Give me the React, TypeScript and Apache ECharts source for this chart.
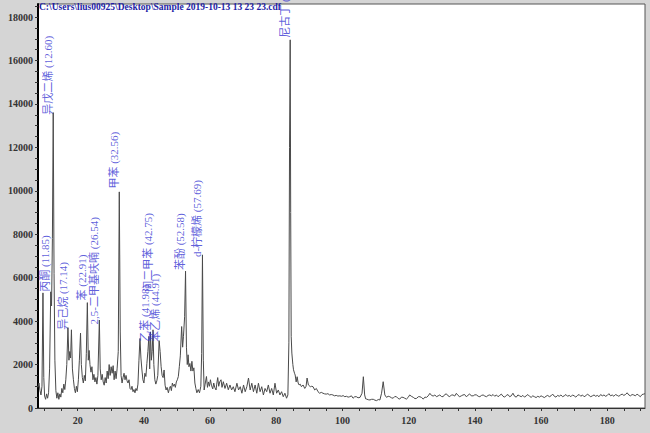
import React, { useEffect, useRef } from 'react';
import * as echarts from 'echarts';

// chromatogram trace: [retention time (min), TIC]
const trace: [number, number][] = [
  [8.0, 950], [8.3, 1150], [8.6, 800], [8.9, 600], [9.2, 1000], [9.5, 5300], [9.75, 1400], [10.0, 550], [10.3, 400], [10.6, 650], [10.9, 450], [11.2, 700], [11.5, 1800], [11.85, 5350], [12.1, 4700], [12.35, 7800], [12.6, 13600], [12.85, 6200], [13.1, 2200], [13.4, 800], [13.7, 450], [14.0, 700], [14.3, 400], [14.6, 650], [14.9, 500], [15.2, 900], [15.5, 700], [15.8, 1100], [16.1, 850], [16.4, 1300], [16.7, 2000], [17.05, 3700], [17.35, 2200], [17.6, 2600], [17.85, 2300], [18.1, 3600], [18.4, 1800], [18.7, 1300], [19.0, 900], [19.3, 700], [19.6, 1000], [19.9, 750],
  [20.2, 1300], [20.5, 2200], [20.85, 3450], [21.1, 2000], [21.4, 1400], [21.7, 1150], [22.0, 1500], [22.3, 1250], [22.6, 2500], [22.91, 4850], [23.2, 2200], [23.45, 2650], [23.7, 2000], [24.0, 1650], [24.3, 1900], [24.6, 1300], [24.9, 1550], [25.2, 1200], [25.5, 1400], [25.8, 1100], [26.1, 1500], [26.54, 4050], [26.8, 1800], [27.1, 1300], [27.4, 1550], [27.7, 1200], [28.0, 1050], [28.3, 1400], [28.6, 1150], [28.9, 1700], [29.2, 1350], [29.5, 2000], [29.8, 1500],
  [30.1, 1900], [30.4, 1600], [30.7, 1950], [31.0, 1300], [31.3, 1700], [31.6, 1350], [31.9, 1800], [32.25, 2600], [32.56, 9950], [32.85, 3500], [33.1, 1500], [33.4, 1150], [33.7, 1400], [34.0, 1600], [34.3, 1300], [34.6, 1500], [34.9, 1250], [35.2, 1150], [35.5, 1300], [35.8, 900], [36.1, 850], [36.4, 1000], [36.7, 750], [37.0, 850], [37.3, 700], [37.6, 900], [37.9, 800], [38.2, 1100], [38.5, 2200], [38.8, 3200], [39.1, 2300], [39.4, 1750], [39.7, 1300],
  [40.0, 1150], [40.3, 1600], [40.6, 1450], [40.9, 2050], [41.2, 2600], [41.5, 3300], [41.75, 1800], [41.98, 3500], [42.25, 2200], [42.5, 2600], [42.75, 3600], [43.0, 2000], [43.3, 1300], [43.6, 1100], [43.9, 1250], [44.2, 1500], [44.6, 3100], [44.9, 2600], [45.2, 1900], [45.5, 1500], [45.8, 1400], [46.1, 1750], [46.4, 1050], [46.7, 830], [47.0, 950], [47.4, 700], [47.7, 900], [48.0, 1000], [48.3, 800], [48.6, 1150], [48.9, 1000], [49.2, 1100], [49.5, 950], [49.8, 1200],
  [50.1, 1300], [50.4, 1450], [50.7, 1900], [51.0, 2400], [51.4, 3750], [51.7, 2800], [51.95, 3300], [52.3, 4200], [52.58, 6300], [52.85, 2800], [53.1, 2000], [53.35, 2450], [53.6, 1900], [53.9, 2050], [54.2, 1700], [54.5, 2150], [54.8, 1700], [55.1, 1850], [55.4, 1150], [55.7, 900], [56.0, 700], [56.4, 850], [56.8, 700], [57.2, 1000], [57.45, 2500], [57.69, 7050], [57.95, 2200], [58.2, 830], [58.5, 1100], [58.9, 1450], [59.2, 950], [59.5, 1200], [59.8, 1000],
  [60.1, 1300], [60.4, 1050], [60.8, 880], [61.1, 1150], [61.4, 950], [61.8, 830], [62.0, 1100], [62.3, 1400], [62.6, 1000], [62.9, 1200], [63.3, 1300], [63.6, 950], [64.0, 1210], [64.5, 900], [65.0, 1140], [65.5, 840], [66.0, 1060], [66.5, 830], [67.0, 980], [67.5, 750], [68.1, 1140], [68.6, 830], [69.1, 980], [69.6, 680], [70.1, 1060], [70.6, 750], [71.1, 980], [71.6, 1380], [72.1, 830], [72.6, 1140], [73.1, 750], [73.6, 1060], [74.1, 680], [74.6, 1140], [75.1, 750], [75.6, 980], [76.1, 600], [76.6, 900], [77.1, 750], [77.6, 1060], [78.1, 680], [78.6, 900], [79.1, 600], [79.6, 1140],
  [80.1, 680], [80.6, 830], [81.1, 600], [81.6, 750], [82.1, 520], [82.6, 680], [83.1, 450], [83.5, 600], [83.8, 3000], [84.0, 12000], [84.2, 16950], [84.35, 9000], [84.5, 3300], [84.7, 2530], [85.0, 2000], [85.2, 1760], [85.5, 1600], [85.7, 1520], [86.0, 1200], [86.3, 1440], [86.6, 1150], [86.9, 1060], [87.2, 1100], [87.6, 980], [88.1, 1060], [88.6, 900], [89.0, 1000], [89.3, 1380], [89.7, 1060], [90.3, 980], [90.7, 1000], [91.1, 980], [91.6, 830], [92.1, 900], [92.6, 750], [93.1, 680], [93.6, 720], [94.1, 680], [94.6, 650], [95.1, 640], [95.6, 660], [96.1, 600], [96.6, 620], [97.1, 600], [97.6, 560], [98.1, 580], [98.6, 550], [99.2, 560], [99.7, 540],
  [100.2, 570], [100.7, 520], [101.2, 540], [101.7, 500], [102.2, 520], [102.7, 560], [103.2, 450], [103.7, 520], [104.2, 520], [104.7, 470], [105.3, 490], [105.9, 680], [106.3, 1440], [106.7, 600], [107.0, 420], [107.3, 410], [107.8, 380], [108.3, 370], [108.8, 400], [109.3, 400], [109.8, 360], [110.3, 340], [110.8, 390], [111.3, 370], [111.8, 680], [112.3, 1210], [112.8, 600], [113.3, 490], [113.8, 540], [114.3, 520], [114.8, 470], [115.3, 450], [115.8, 530], [116.3, 520], [116.8, 440], [117.3, 410], [117.8, 500], [118.3, 490], [118.8, 450], [119.3, 410], [119.8, 480],
  [120.3, 600], [120.8, 540], [121.4, 490], [121.9, 430], [122.4, 445], [122.9, 520], [123.4, 520], [123.9, 480], [124.4, 410], [124.9, 500], [125.4, 490], [125.9, 560], [126.4, 675], [126.9, 580], [127.4, 550], [127.9, 600], [128.4, 520], [128.9, 560], [129.4, 600], [129.9, 530], [130.4, 520], [130.9, 620], [131.4, 650], [131.9, 560], [132.4, 520], [132.9, 600], [133.4, 600], [133.9, 550], [134.4, 675], [134.9, 580], [135.4, 520], [135.9, 560], [136.4, 600], [136.9, 620], [137.4, 520], [137.9, 580], [138.4, 650], [138.9, 560], [139.5, 560],
  [140.0, 610], [140.5, 600], [141.0, 540], [141.5, 520], [142.0, 580], [142.5, 600], [143.0, 550], [143.5, 520], [144.0, 580], [144.5, 600], [145.0, 560], [145.5, 620], [146.0, 540], [146.5, 600], [147.0, 520], [147.5, 580], [148.0, 640], [148.5, 540], [149.0, 500], [149.5, 580], [150.0, 620], [150.5, 520], [151.0, 560], [151.5, 680], [152.0, 540], [152.5, 500], [153.0, 600], [153.5, 560], [154.0, 520], [154.5, 580], [155.0, 500], [155.5, 560], [156.0, 620], [156.5, 540], [157.0, 490], [157.5, 560], [158.0, 520], [158.5, 480], [159.0, 540], [159.5, 500],
  [160.0, 560], [160.5, 520], [161.0, 480], [161.5, 540], [162.0, 580], [162.5, 520], [163.0, 560], [163.5, 640], [164.0, 540], [164.5, 500], [165.0, 580], [165.5, 540], [166.0, 600], [166.5, 520], [167.0, 560], [167.5, 620], [168.0, 540], [168.5, 580], [169.0, 520], [169.5, 600], [170.0, 560], [170.5, 500], [171.0, 580], [171.5, 620], [172.0, 540], [172.5, 600], [173.0, 520], [173.5, 560], [174.0, 640], [174.5, 580], [175.0, 520], [175.5, 560], [176.0, 600], [176.5, 540], [177.0, 580], [177.5, 520], [178.0, 620], [178.5, 560], [179.0, 600], [179.5, 540],
  [180.0, 580], [180.5, 660], [181.0, 560], [181.5, 600], [182.0, 540], [182.5, 620], [183.0, 580], [183.5, 540], [184.0, 600], [184.5, 640], [185.0, 580], [185.5, 620], [186.0, 700], [186.5, 600], [187.0, 560], [187.5, 620], [188.0, 600], [188.5, 560], [189.0, 640], [189.5, 580], [190.0, 520], [190.5, 620], [191.0, 640], [191.4, 660],
];

// peak annotations
const peakNames = ['丙酮', '异戊二烯', '异己烷', '苯', '2,5-二甲基呋喃', '甲苯', '乙苯', '间二甲苯', '苯乙烯', '苯酚', 'd-柠檬烯', '尼古丁'];
const peakTimes = ['11.85', '12.60', '17.14', '22.91', '26.54', '32.56', '41.98', '42.75', '44.91', '52.58', '57.69', '84.21'];
const labelHeights = [5350, 13500, 3600, 4950, 3850, 10100, 3050, 5350, 3050, 6350, 6950, 17050];

const xTickValues = [10, 15, 20, 25, 30, 35, 40, 45, 50, 55, 60, 65, 70, 75, 80, 85, 90, 95, 100, 105, 110, 115, 120, 125, 130, 135, 140, 145, 150, 155, 160, 165, 170, 175, 180, 185, 190];
const xLabelValues = [20, 40, 60, 80, 100, 120, 140, 160, 180];
const yTickValues = [0, 500, 1000, 1500, 2000, 2500, 3000, 3500, 4000, 4500, 5000, 5500, 6000, 6500, 7000, 7500, 8000, 8500, 9000, 9500, 10000, 10500, 11000, 11500, 12000, 12500, 13000, 13500, 14000, 14500, 15000, 15500, 16000, 16500, 17000, 17500, 18000, 18500];
const yLabelValues = [0, 2000, 4000, 6000, 8000, 10000, 12000, 14000, 16000, 18000];

const fileTitle = 'C:\\Users\\lius00925\\Desktop\\Sample 2019-10-13 13 23 23.cdf';

const SERIF = "'Liberation Serif', 'Noto Sans CJK SC', serif";

export default function App() {
  const ref = useRef<HTMLDivElement>(null);
  useEffect(() => {
    document.body.style.margin = '0';
    if (!ref.current) return;
    const chart = echarts.init(ref.current, undefined, { renderer: 'svg' });
    const labelData = peakNames.map((n, i) => [parseFloat(peakTimes[i]), labelHeights[i], n, peakTimes[i]]);
    chart.setOption({
      animation: false,
      backgroundColor: '#d5d5d5',
      title: {
        text: fileTitle,
        left: 39,
        top: 2,
        padding: 0,
        textStyle: { fontSize: 9.5, fontWeight: 'bold', color: '#1e1ea6', fontFamily: SERIF },
      },
      grid: {
        left: 38, right: 5, top: 4, bottom: 25,
        outerBoundsMode: 'none', containLabel: false,
        show: true, backgroundColor: '#ffffff', borderColor: '#555', borderWidth: 1,
      },
      xAxis: {
        type: 'value', min: 8, max: 191.4,
        axisLine: { show: true, lineStyle: { color: '#333', width: 1 } },
        axisTick: { show: true, customValues: xTickValues, length: 3, lineStyle: { color: '#333' } },
        axisLabel: { customValues: xLabelValues, fontSize: 10, fontWeight: 'bold', color: '#333', fontFamily: SERIF, margin: 7, formatter: (v: number) => String(v) },
        splitLine: { show: false },
      },
      yAxis: {
        type: 'value', min: 0, max: 18600,
        name: 'TIC', nameLocation: 'middle', nameGap: 32, nameRotate: 90,
        nameTextStyle: { fontSize: 10, fontWeight: 'bold', color: '#333', fontFamily: SERIF },
        axisLine: { show: true, lineStyle: { color: '#000', width: 2 } },
        axisTick: { show: true, customValues: yTickValues, length: 3, lineStyle: { color: '#333' } },
        axisLabel: { customValues: yLabelValues, fontSize: 10, fontWeight: 'bold', color: '#333', fontFamily: SERIF, margin: 5, formatter: (v: number) => String(v) },
        splitLine: { show: false },
      },
      series: [
        {
          type: 'line', data: trace, showSymbol: false, symbol: 'none',
          lineStyle: { color: '#4a4a4a', width: 1 },
          z: 2,
        },
        {
          type: 'scatter', data: labelData, symbolSize: 1,
          itemStyle: { color: 'rgba(0,0,0,0)' },
          z: 5,
          label: {
            show: true, position: 'inside', rotate: 90, align: 'left', verticalAlign: 'bottom',
            formatter: (p: any) => `${p.data[2]} (${p.data[3]})`,
            fontSize: 11, color: '#3535d2', fontFamily: SERIF,
          },
        },
      ],
    });
    return () => chart.dispose();
  }, []);
  return <div ref={ref} style={{ position: 'absolute', left: 0, top: 0, width: 650, height: 433 }} />;
}
